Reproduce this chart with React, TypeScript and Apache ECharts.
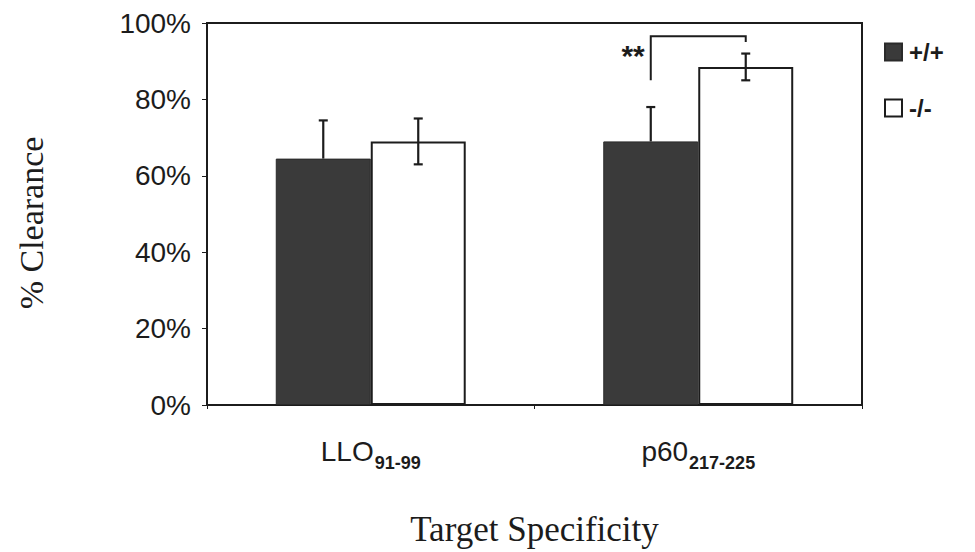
import React, { useEffect, useRef } from "react";
import * as echarts from "echarts";

// Peptide targets and their residue ranges (shown as subscripts)
const categories = ["LLO", "p60"];
const categorySubscripts = ["91-99", "217-225"];

// % clearance, mean and error, for each genotype
const wildTypeName = "+/+";
const wildTypeValues = [64.5, 69];
const wildTypeErrors = [10, 9];
const knockoutName = "-/-";
const knockoutValues = [69, 88.5];
const knockoutErrors = [6, 3.5];

const yTickStep = 20;
const yMax = 100;
const yTitle = "% Clearance";
const xTitle = "Target Specificity";

// significance bracket over the p60 pair: left leg foot, bracket top, right leg foot
const bracketCategory = 1;
const bracketLevels = [85, 96.5, 95];
const significanceLabel = "**";
const significanceLevel = 91.5;

const BAR_OFFSET = 0.145; // bar centre offset as a fraction of the category band

const sansFont = "'Liberation Sans', Arial, sans-serif";
const serifFont = "'Liberation Serif', 'Times New Roman', serif";
const ink = "#1c1c1c";

function errorBarRenderer(offset: number, bothSides: boolean) {
  return (params: any, api: any) => {
    const cat = api.value(0);
    const val = api.value(1);
    const err = api.value(2);
    const band = api.size([1, 0])[0];
    const x = api.coord([cat, val])[0] + offset * band;
    const yTop = api.coord([cat, val + err])[1];
    const yBot = api.coord([cat, bothSides ? val - err : val])[1];
    const cap = 4.5;
    const style = { stroke: ink, lineWidth: 2.2 };
    const children: any[] = [
      { type: "line", shape: { x1: x, y1: yTop, x2: x, y2: yBot }, style },
      { type: "line", shape: { x1: x - cap, y1: yTop, x2: x + cap, y2: yTop }, style },
    ];
    if (bothSides) {
      children.push({ type: "line", shape: { x1: x - cap, y1: yBot, x2: x + cap, y2: yBot }, style });
    }
    return { type: "group", children };
  };
}

export default function App() {
  const ref = useRef<HTMLDivElement>(null);

  useEffect(() => {
    document.body.style.margin = "0";
    if (!ref.current) return;
    const chart = echarts.init(ref.current, undefined, { renderer: "svg" });

    const option: any = {
      animation: false,
      backgroundColor: "#ffffff",
      grid: {
        left: 207,
        right: 113,
        top: 23,
        bottom: 147,
        outerBoundsMode: "none",
        show: true,
        borderColor: ink,
        borderWidth: 2,
        backgroundColor: "transparent",
      },
      legend: {
        orient: "vertical",
        left: 884,
        top: 40,
        padding: 0,
        itemWidth: 17,
        itemHeight: 17,
        itemGap: 32,
        icon: "rect",
        textStyle: {
          fontFamily: sansFont,
          fontSize: 24,
          fontWeight: "bold",
          color: ink,
          padding: [0, 0, 0, 2],
        },
        data: [wildTypeName, knockoutName],
      },
      graphic: [
        {
          type: "text",
          x: 31,
          y: 223,
          rotation: Math.PI / 2,
          silent: true,
          style: {
            text: yTitle,
            fontFamily: serifFont,
            fontSize: 34,
            fill: ink,
            align: "center",
            verticalAlign: "middle",
          },
        },
      ],
      xAxis: {
        type: "category",
        data: categories,
        boundaryGap: true,
        name: xTitle,
        nameLocation: "middle",
        nameGap: 107,
        nameTextStyle: { fontFamily: serifFont, fontSize: 35, color: ink },
        axisLine: { show: true, lineStyle: { color: ink, width: 2 } },
        axisTick: { show: true, length: 4, lineStyle: { color: ink, width: 1 } },
        axisLabel: {
          margin: 32,
          formatter: (v: string, i: number) => `{main|${v}}{sub|${categorySubscripts[i]}}`,
          rich: {
            main: { fontFamily: sansFont, fontSize: 28, color: ink, verticalAlign: "bottom" },
            sub: {
              fontFamily: sansFont,
              fontSize: 18,
              fontWeight: "bold",
              color: ink,
              verticalAlign: "bottom",
              padding: [0, 0, -7, 1],
            },
          },
        },
      },
      yAxis: {
        type: "value",
        min: 0,
        max: yMax,
        interval: yTickStep,
        axisLine: { show: true, lineStyle: { color: ink, width: 2 } },
        axisTick: { show: true, length: 5, lineStyle: { color: ink, width: 1 } },
        splitLine: { show: false },
        axisLabel: {
          margin: 16,
          formatter: "{value}%",
          fontFamily: sansFont,
          fontSize: 28,
          color: ink,
        },
      },
      series: [
        {
          name: wildTypeName,
          type: "bar",
          data: wildTypeValues,
          barWidth: "29%",
          barGap: "0%",
          itemStyle: { color: "#3a3a3a", borderColor: "#2a2a2a", borderWidth: 1 },
        },
        {
          name: knockoutName,
          type: "bar",
          data: knockoutValues,
          barWidth: "29%",
          barGap: "0%",
          itemStyle: { color: "#ffffff", borderColor: ink, borderWidth: 2 },
        },
        {
          type: "custom",
          name: "wildTypeErrors",
          renderItem: errorBarRenderer(-BAR_OFFSET, false),
          data: wildTypeValues.map((v, i) => [i, v, wildTypeErrors[i]]),
          z: 5,
          silent: true,
        },
        {
          type: "custom",
          name: "knockoutErrors",
          renderItem: errorBarRenderer(BAR_OFFSET, true),
          data: knockoutValues.map((v, i) => [i, v, knockoutErrors[i]]),
          z: 5,
          silent: true,
        },
        {
          type: "custom",
          name: "significance",
          silent: true,
          z: 6,
          data: [[bracketCategory, ...bracketLevels, significanceLevel]],
          renderItem: (params: any, api: any) => {
            const cat = api.value(0);
            const band = api.size([1, 0])[0];
            const cx = api.coord([cat, 0])[0];
            const x1 = cx - BAR_OFFSET * band;
            const x2 = cx + BAR_OFFSET * band;
            const yLeft = api.coord([cat, api.value(1)])[1];
            const yTop = api.coord([cat, api.value(2)])[1];
            const yRight = api.coord([cat, api.value(3)])[1];
            const yText = api.coord([cat, api.value(4)])[1];
            return {
              type: "group",
              children: [
                {
                  type: "polyline",
                  shape: { points: [[x1, yLeft], [x1, yTop], [x2, yTop], [x2, yRight]] },
                  style: { stroke: ink, lineWidth: 2, fill: "none" },
                },
                {
                  type: "text",
                  x: x1 - 6,
                  y: yText,
                  style: {
                    text: significanceLabel,
                    fontFamily: sansFont,
                    fontSize: 30,
                    fontWeight: "bold",
                    fill: ink,
                    align: "right",
                    verticalAlign: "middle",
                  },
                },
              ],
            };
          },
        },
      ],
    };

    chart.setOption(option);
    return () => chart.dispose();
  }, []);

  return <div ref={ref} style={{ width: 975, height: 552 }} />;
}
